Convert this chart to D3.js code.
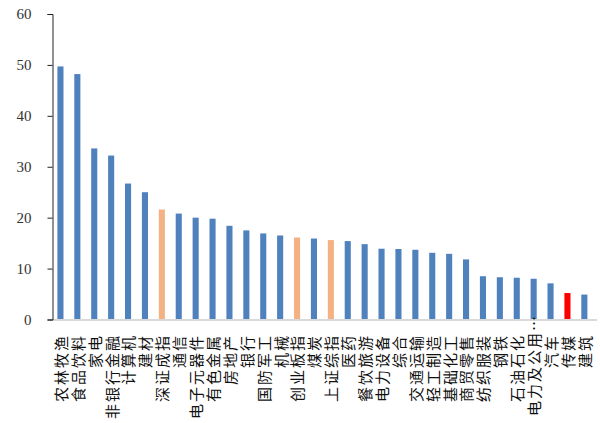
<!DOCTYPE html>
<html>
<head>
<meta charset="utf-8">
<script src="https://cdn.jsdelivr.net/npm/d3@7"></script>
<style>
  body { margin: 0; background: #fff; }
  .yaxis text { font-family: "Liberation Serif", "DejaVu Serif", serif; font-size: 15px; fill: #333; }
  .xaxis text { font-family: "Noto Sans CJK SC", sans-serif; font-size: 15px; letter-spacing: 2px; fill: #111; }
</style>
</head>
<body>
<div id="chart"></div>
<script>
var w = 600;
var h = 423;

// categories, sorted as in the picture
var names = ["农林牧渔", "食品饮料", "家电", "非银行金融", "计算机", "建材", "深证成指", "通信",
  "电子元器件", "有色金属", "房地产", "银行", "国防军工", "机械", "创业板指", "煤炭",
  "上证综指", "医药", "餐饮旅游", "电力设备", "综合", "交通运输", "轻工制造", "基础化工",
  "商贸零售", "纺织服装", "钢铁", "石油石化", "电力及公用…", "汽车", "传媒", "建筑"];
var values = [49.7, 48.2, 33.6, 32.2, 26.7, 25.0, 21.6, 20.8,
  20.0, 19.8, 18.4, 17.5, 16.9, 16.5, 16.1, 15.9,
  15.6, 15.4, 14.8, 13.9, 13.85, 13.7, 13.1, 12.9,
  11.8, 8.5, 8.3, 8.2, 8.0, 7.1, 5.2, 4.9];
var indexNames = ["深证成指", "创业板指", "上证综指"];
var highlight = "传媒";
var yTicks = [0, 10, 20, 30, 40, 50, 60];

var svg = d3.select("#chart")
            .append("svg")
            .attr("width", w)
            .attr("height", h);

var x = d3.scaleBand()
  .domain(names)
  .range([52, 592.8])
  .paddingInner(0.64)
  .paddingOuter(0.32);

var y = d3.scaleLinear()
  .domain([0, 60])
  .range([319.5, 14]);

// bars
svg.selectAll("rect.bar")
  .data(names)
  .enter()
  .append("rect")
  .attr("class", "bar")
  .attr("x", function(d){ return x(d); })
  .attr("width", x.bandwidth())
  .attr("y", function(d, i){ return y(values[i]); })
  .attr("height", function(d, i){ return y(0) - y(values[i]); })
  .style("fill", function(d){
    if (d == highlight) return "#ff0000";
    if (indexNames.indexOf(d) >= 0) return "#f4b183";
    return "#4f81bd";
  });

// x axis: gray baseline + rotated labels hanging under it
var xAxis = svg.append("g")
  .attr("class", "xaxis")
  .attr("transform", "translate(0," + 320 + ")")
  .call(d3.axisBottom(x).tickSize(0).tickSizeOuter(0));

xAxis.select(".domain")
  .attr("stroke", "#d9d9d9")
  .attr("stroke-width", 2)
  .attr("d", "M52,0H597");

// rotated frame: x runs upward, so a negative x pushes the label end below the axis
xAxis.selectAll(".tick text")
  .attr("text-anchor", "end")
  .attr("x", function(d){ return d.indexOf("…") >= 0 ? 6 : -14; })
  .attr("y", 1)
  .attr("dy", "0.36em")
  .attr("transform", "rotate(-90)");

// y axis
var yAxis = svg.append("g")
  .attr("class", "yaxis")
  .attr("transform", "translate(52.5,0)")
  .call(d3.axisLeft(y).tickValues(yTicks).tickSize(5).tickSizeOuter(5).tickPadding(16));

yAxis.select(".domain").attr("stroke", "#222");
yAxis.selectAll(".tick line").attr("stroke", "#222");
</script>
</body>
</html>
